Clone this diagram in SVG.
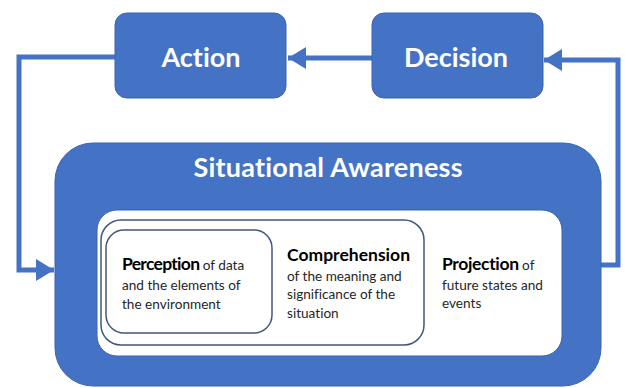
<svg xmlns="http://www.w3.org/2000/svg" width="625" height="388" viewBox="0 0 625 388">
<style>
text{font-variant-ligatures:none}
.blue{fill:#4472C4;stroke:#3A64B0;stroke-width:1}
.lbl{font-family:Lato,"Open Sans","Liberation Sans",sans-serif;font-weight:bold;fill:#ffffff;text-anchor:middle}
.inner{fill:#ffffff;stroke:#41577E;stroke-width:1.5}
.txt{font-family:Lato,"Open Sans","Liberation Sans",sans-serif;font-size:13.6px;fill:#262626}
.b{font-weight:bold;font-size:17.5px;fill:#000000}
.conn{fill:none;stroke:#4472C4;stroke-width:5}
</style>
<defs>
<marker id="ah" markerUnits="userSpaceOnUse" markerWidth="18" markerHeight="22" refX="18" refY="11" orient="auto">
<path d="M0,0 L18,11 L0,22 z" fill="#4472C4"/>
</marker>
</defs>
<g id="connectors">
<path class="conn" d="M116,57 H19 V270 H54" marker-end="url(#ah)"/>
<path class="conn" d="M372,58 H288" marker-end="url(#ah)"/>
<path class="conn" d="M600,265 H618 V60 H544" marker-end="url(#ah)"/>
</g>
<g id="action">
<rect class="blue" x="115" y="13" width="171" height="85" rx="12"/>
<text class="lbl" x="201" y="67" font-size="27">Action</text>
</g>
<g id="decision">
<rect class="blue" x="372" y="13" width="171" height="85" rx="12"/>
<text class="lbl" x="456" y="67" font-size="27">Decision</text>
</g>
<g id="situational-awareness">
<rect class="blue" x="55" y="143" width="546" height="243" rx="38"/>
<text class="lbl" x="328" y="177" font-size="27" textLength="269">Situational Awareness</text>
<rect x="97" y="210" width="465" height="146" rx="20" fill="#ffffff" stroke="#3A64B0" stroke-width="1"/>
</g>
<g id="comprehension">
<rect class="inner" x="101" y="220" width="323" height="125" rx="20"/>
<text class="txt" x="287" y="261"><tspan class="b" textLength="123">Comprehension</tspan></text>
<text class="txt" x="287" y="281">of the meaning and</text>
<text class="txt" x="287" y="299">significance of the</text>
<text class="txt" x="287" y="318">situation</text>
</g>
<g id="perception">
<rect class="inner" x="106" y="230" width="166" height="103" rx="18"/>
<text class="txt" x="122" y="270"><tspan class="b" textLength="78">Perception</tspan> of data</text>
<text class="txt" x="122" y="290">and the elements of</text>
<text class="txt" x="122" y="309">the environment</text>
</g>
<g id="projection">
<text class="txt" x="442" y="270"><tspan class="b" textLength="77">Projection</tspan> of</text>
<text class="txt" x="442" y="290">future states and</text>
<text class="txt" x="442" y="308">events</text>
</g>
</svg>
